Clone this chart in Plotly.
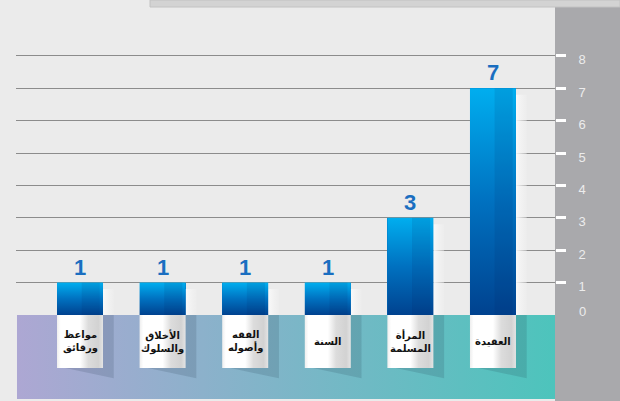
import plotly.graph_objects as go

# ---- data ----
categories = ["مواعظ<br>ورقائق", "الأخلاق<br>والسلوك", "الفقه<br>وأصوله", "السنة", "المرأة<br>المسلمة", "العقيدة"]
values = [1, 1, 1, 1, 3, 7]
y_ticks = [1, 2, 3, 4, 5, 6, 7, 8]

# ---- layout constants ----
W, H = 620, 401
ML, MR = 16, 65
X_RANGE = [-0.775, 5.751]
Y_RANGE = [-2.654, 9.722]
BAR_W = 0.557
BOX_BOTTOM = -1.636
BAND_BOTTOM = -2.59
SH = 0.13  # shadow width (x units)

xs = list(range(len(values)))
fig = go.Figure()

# bottom gradient band
bx0, bx1 = X_RANGE[0] + 0.012, X_RANGE[1]
fig.add_trace(go.Scatter(
    x=[bx0, bx1, bx1, bx0, bx0], y=[0, 0, BAND_BOTTOM, BAND_BOTTOM, 0],
    mode="lines", line=dict(width=0), fill="toself",
    fillgradient=dict(type="horizontal", colorscale=[[0, "#ada7d3"], [1, "#4dc4bc"]]),
    hoverinfo="skip", showlegend=False))

# bars (data)
fig.add_trace(go.Bar(
    x=xs, y=values, width=BAR_W, marker=dict(color="#0070c0", line=dict(width=0)),
    text=[str(v) for v in values], textposition="outside", cliponaxis=False,
    textfont=dict(size=22, color="#1a6ec0", family="Liberation Sans", weight="bold"),
    showlegend=False))

for i, v in zip(xs, values):
    l, r = i - BAR_W / 2, i + BAR_W / 2
    # light shadow right of the bar
    fig.add_trace(go.Scatter(
        x=[r, r + SH, r + SH, r, r], y=[v - 0.2, v - 0.2, 0, 0, v - 0.2],
        mode="lines", line=dict(width=0), fill="toself",
        fillgradient=dict(type="horizontal", colorscale=[[0, "rgba(250,250,250,0.95)"], [1, "rgba(240,240,240,0.4)"]]),
        hoverinfo="skip", showlegend=False))
    # dark shadow of label box
    fig.add_trace(go.Scatter(
        x=[r, r + SH, r + SH, l + 0.1, r], y=[0, 0, -1.95, BOX_BOTTOM, 0],
        mode="lines", line=dict(width=0), fill="toself",
        fillcolor="rgba(30,50,70,0.15)", hoverinfo="skip", showlegend=False))
    # gradient overlay on bar
    fig.add_trace(go.Scatter(
        x=[l, r, r, l, l], y=[0, 0, v, v, 0],
        mode="lines", line=dict(width=0), fill="toself",
        fillgradient=dict(type="vertical", start=0, stop=v,
                          colorscale=[[0, "#00428f"], [0.5, "#0071c0"], [1, "#00aeef"]]),
        hoverinfo="skip", showlegend=False))
    # darker stripe on right part of bar
    fig.add_trace(go.Scatter(
        x=[i + 0.02, r - 0.04, r - 0.04, i + 0.02, i + 0.02], y=[0, 0, v, v, 0],
        mode="lines", line=dict(width=0), fill="toself",
        fillcolor="rgba(0,30,90,0.10)", hoverinfo="skip", showlegend=False))
    # label box
    fig.add_trace(go.Scatter(
        x=[l, r, r, l, l], y=[0, 0, BOX_BOTTOM, BOX_BOTTOM, 0],
        mode="lines", line=dict(width=0), fill="toself",
        fillgradient=dict(type="horizontal", colorscale=[
            [0, "#eeeeee"], [0.08, "#ffffff"], [0.5, "#ffffff"], [0.68, "#dcdcdc"],
            [0.9, "#d2d2d2"], [1, "#e4e4e4"]]),
        hoverinfo="skip", showlegend=False))

annotations = []
for i, c in zip(xs, categories):
    annotations.append(dict(
        x=i, y=(0 + BOX_BOTTOM) / 2, xref="x", yref="y", text="<b>" + c + "</b>",
        showarrow=False, font=dict(size=10, color="#111111", family="DejaVu Sans"),
        align="center"))
# zero label on the right axis band
annotations.append(dict(
    x=1 + (582 - 555) / 539, y=0, xref="paper", yref="y", text="0", showarrow=False,
    yshift=4, xanchor="center", font=dict(size=13, color="#ececec", family="Liberation Sans")))

fig.update_layout(
    width=W, height=H, margin=dict(l=ML, r=MR, t=0, b=0),
    paper_bgcolor="#ebebeb", plot_bgcolor="#ebebeb",
    showlegend=False, bargap=0,
    xaxis=dict(range=X_RANGE, visible=False, fixedrange=True),
    yaxis=dict(range=Y_RANGE, side="right", tickvals=y_ticks, showgrid=True,
               gridcolor="#8c8c8c", gridwidth=1, zeroline=False, showline=False,
               ticks="outside", ticklen=10, tickwidth=3, tickcolor="#ffffff",
               ticklabelstandoff=10, ticklabelshift=4,
               tickfont=dict(size=13, color="#ececec", family="Liberation Sans")),
    shapes=[
        dict(type="rect", xref="paper", yref="paper", x0=1, x1=1 + MR / 539,
             y0=0, y1=(H - 7) / H, fillcolor="#a9a9ac", line=dict(width=0), layer="below"),
        dict(type="rect", xref="paper", yref="paper", x0=(150 - ML) / 539, x1=1 + MR / 539,
             y0=(H - 7) / H, y1=1, fillcolor="#d3d3d3", line=dict(color="#c2c2c2", width=1), layer="below"),
    ],
    annotations=annotations,
)

fig.write_html("out.html", config={"displayModeBar": False},
               post_script="document.body.style.margin='0';document.body.style.background='#ebebeb';")
